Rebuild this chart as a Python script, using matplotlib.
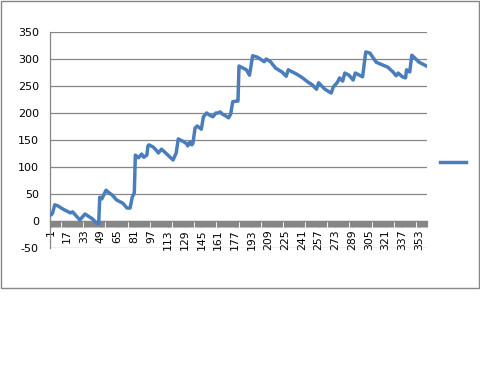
import matplotlib
matplotlib.use("Agg")
import matplotlib.pyplot as plt
from matplotlib.patches import Rectangle
from matplotlib.ticker import FixedLocator

# ---- data ----
n_categories = 360
point_index = [1, 2, 3, 5, 8, 13, 18, 20, 22, 29, 34, 37, 41, 45, 47, 48, 50, 54, 57,
               60, 64, 68, 70, 74, 77, 79, 81, 82, 85, 88, 90, 93, 94, 95, 99, 102,
               104, 107, 112, 118, 121, 123, 128, 131, 132, 134, 136, 137, 139, 141,
               145, 147, 150, 153, 156, 159, 161, 163, 165, 168, 171, 173, 175, 179,
               180, 181, 188, 191, 194, 199, 205, 207, 211, 216, 222, 226, 228, 232,
               236, 241, 247, 251, 255, 257, 263, 269, 271, 275, 277, 280, 282, 286,
               290, 292, 299, 302, 306, 312, 318, 323, 328, 331, 333, 337, 340, 341,
               344, 346, 353, 360]
point_value = [11, 12, 15, 30, 28, 22, 17, 15, 17, 2, 13, 9, 4, -4, -5, 44, 41, 57, 52,
               48, 39, 35, 33, 24, 24, 44, 52, 122, 117, 124, 118, 122, 139, 141, 137, 131,
               126, 133, 124, 113, 126, 152, 147, 143, 139, 146, 141, 144, 172, 176,
               170, 193, 200, 196, 193, 200, 200, 202, 198, 195, 191, 198, 221, 222,
               222, 287, 280, 270, 306, 303, 295, 300, 295, 283, 276, 268, 280, 276,
               272, 266, 257, 252, 244, 256, 244, 237, 248, 257, 265, 259, 274, 270,
               261, 274, 267, 313, 311, 294, 289, 285, 276, 269, 274, 267, 265, 280,
               276, 307, 294, 287]
tick_labels = [1, 17, 33, 49, 65, 81, 97, 113, 129, 145, 161, 177, 193, 209, 225,
               241, 257, 273, 289, 305, 321, 337, 353]
y_ticks = [-50, 0, 50, 100, 150, 200, 250, 300, 350]

W, H = 481, 384
fig = plt.figure(figsize=(W / 100, H / 100), dpi=100)
fig.patch.set_facecolor("white")

# chart border
fig.patches.append(Rectangle((0.5 / W, 1 - 287.5 / H), 479 / W, 287 / H,
                             transform=fig.transFigure, fill=False,
                             edgecolor="#868686", linewidth=1.0))

ax = fig.add_axes([50 / W, (H - 248) / H, (427 - 50) / W, (248 - 32) / H])
ax.set_xlim(0.5, n_categories + 0.5)
ax.set_ylim(-50, 350)

grid_c = "#868686"
for v in y_ticks:
    ax.axhline(v, color=grid_c, lw=0.9, zorder=1)

line, = ax.plot(point_index, point_value, color="#4A7EBB", lw=2.5,
                solid_joinstyle="round", zorder=3)

for s in ["top", "right"]:
    ax.spines[s].set_visible(False)
ax.spines["left"].set_color(grid_c)
ax.spines["left"].set_linewidth(0.9)
ax.spines["bottom"].set_position(("data", 0))
ax.spines["bottom"].set_color(grid_c)
ax.spines["bottom"].set_linewidth(0.9)

ax.set_yticks(y_ticks)
ax.set_yticklabels([str(v) for v in y_ticks], fontsize=8)
ax.tick_params(axis="y", length=0, pad=8, colors="black")

ax.xaxis.set_major_locator(FixedLocator(tick_labels))
ax.set_xticklabels([str(v) for v in tick_labels], rotation=90, fontsize=7.8)
ax.xaxis.set_minor_locator(FixedLocator([k + 0.5 for k in range(0, n_categories + 1)]))
ax.tick_params(axis="x", which="major", length=4.2, width=0.8, color=grid_c, pad=2,
               labelcolor="black")
ax.tick_params(axis="x", which="minor", length=4.2, width=0.8, color=grid_c)

leg = fig.legend([line], [" "], loc="center left",
                 bbox_to_anchor=(436 / W, (H - 163) / H), frameon=False,
                 handlelength=2.3, fontsize=8, borderaxespad=0, handletextpad=0.3)

fig.savefig("out.png", dpi=100, facecolor="white")
